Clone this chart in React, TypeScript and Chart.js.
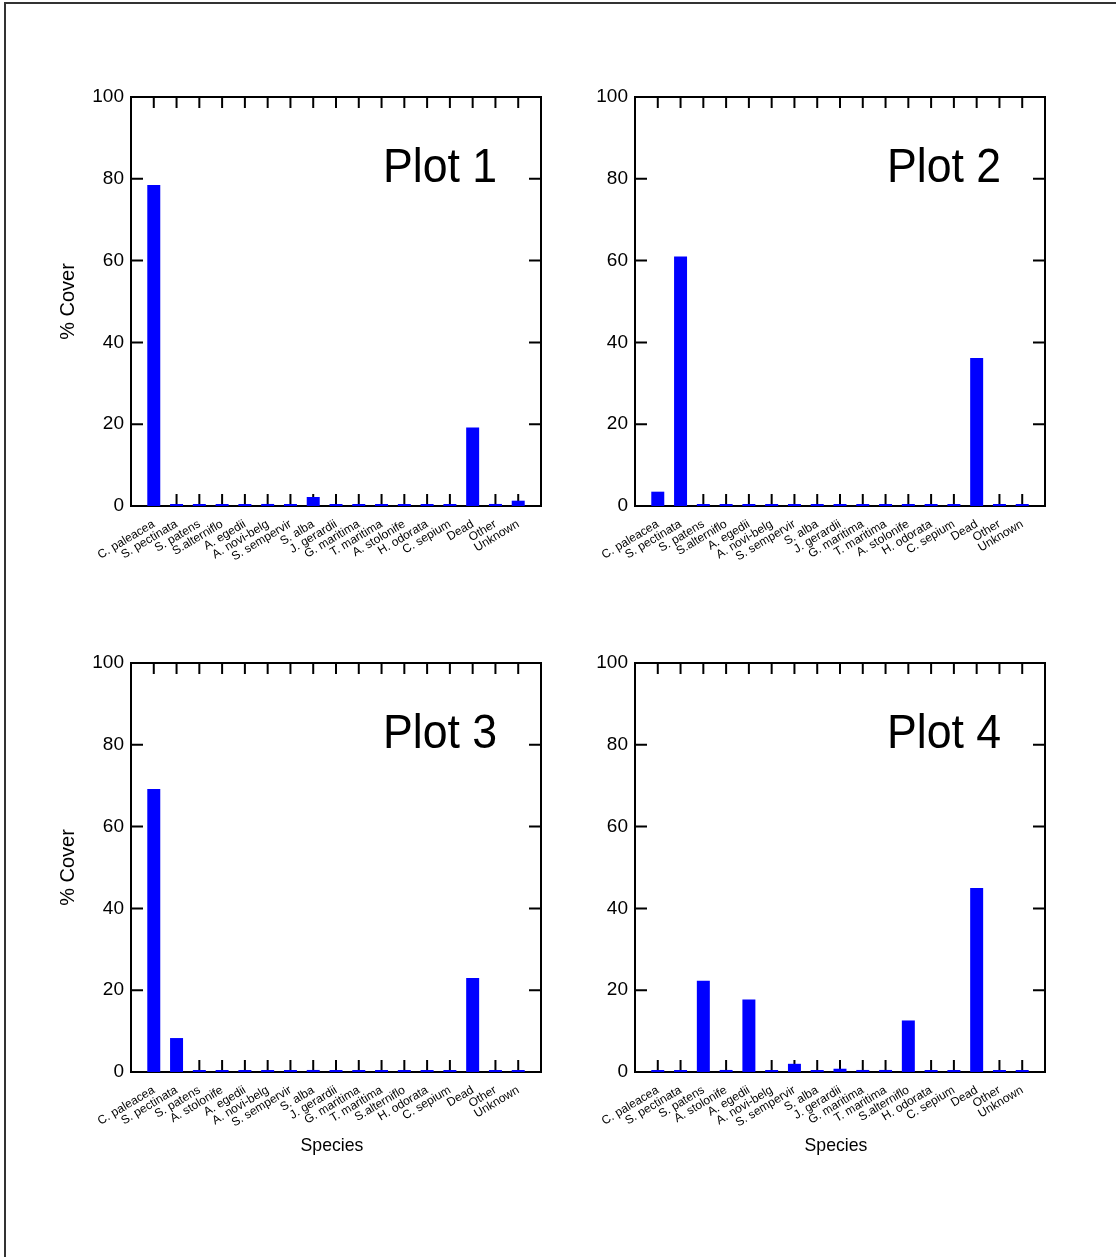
import React, { useEffect, useRef } from "react";
import { Chart, registerables } from "chart.js";

Chart.register(...registerables);
Chart.defaults.font.family = "'Liberation Sans', Arial, Helvetica, sans-serif";

const speciesA = [
  "C. paleacea", "S. pectinata", "S. patens", "S.alterniflo", "A. egedii",
  "A. novi-belg", "S. sempervir", "S. alba", "J. gerardii", "G. maritima",
  "T. maritima", "A. stolonife", "H. odorata", "C. sepium", "Dead", "Other", "Unknown",
];
const speciesB = [
  "C. paleacea", "S. pectinata", "S. patens", "A. stolonife", "A. egedii",
  "A. novi-belg", "S. sempervir", "S. alba", "J. gerardii", "G. maritima",
  "T. maritima", "S.alterniflo", "H. odorata", "C. sepium", "Dead", "Other", "Unknown",
];
const plot1Cover = [78.5, 0, 0, 0, 0, 0.5, 0, 2.2, 0, 0, 0, 0, 0, 0, 19.2, 0.5, 1.3];
const plot2Cover = [3.5, 61, 0, 0, 0, 0, 0, 0, 0, 0, 0, 0, 0, 0, 36.2, 0, 0];
const plot3Cover = [69.2, 8.3, 0, 0, 0, 0, 0, 0.5, 0, 0, 0, 0, 0, 0, 23, 0, 0];
const plot4Cover = [0, 0, 22.3, 0.5, 17.7, 0, 2, 0, 0.8, 0.5, 0.5, 12.6, 0, 0, 45, 0, 0];
const yTicks = [0, 20, 40, 60, 80, 100];

const FONT = "'Liberation Sans', Arial, Helvetica, sans-serif";

function makeFramePlugin(title: string, showY: boolean, showX: boolean, nCats: number) {
  return {
    id: "frame",
    beforeDatasetsDraw(chart: any) {
      const { ctx, chartArea: a, scales } = chart;
      ctx.save();
      ctx.strokeStyle = "#000";
      ctx.lineWidth = 2;
      ctx.strokeRect(a.left, a.top, a.right - a.left, a.bottom - a.top);
      ctx.beginPath();
      yTicks.forEach((v) => {
        const y = scales.y.getPixelForValue(v);
        ctx.moveTo(a.left, y);
        ctx.lineTo(a.left + 12, y);
        ctx.moveTo(a.right, y);
        ctx.lineTo(a.right - 12, y);
      });
      for (let i = 1; i <= nCats; i++) {
        const x = scales.x.getPixelForValue(i);
        ctx.moveTo(x, a.top);
        ctx.lineTo(x, a.top + 11);
        ctx.moveTo(x, a.bottom);
        ctx.lineTo(x, a.bottom - 12);
      }
      ctx.stroke();
      ctx.restore();
    },
    afterDraw(chart: any) {
      const { ctx, chartArea: a } = chart;
      ctx.save();
      ctx.fillStyle = "#000";
      ctx.save();
      ctx.translate(a.left + 252, a.top + 85);
      ctx.scale(0.93, 1);
      ctx.font = `48px ${FONT}`;
      ctx.textAlign = "left";
      ctx.textBaseline = "alphabetic";
      ctx.fillText(title, 0, 0);
      ctx.restore();
      if (showY) {
        ctx.save();
        ctx.translate(a.left - 57.5, (a.top + a.bottom) / 2);
        ctx.rotate(-Math.PI / 2);
        ctx.font = `20px ${FONT}`;
        ctx.textAlign = "center";
        ctx.textBaseline = "alphabetic";
        ctx.fillText("% Cover", 0, 0);
        ctx.restore();
      }
      if (showX) {
        ctx.save();
        ctx.translate((a.left + a.right) / 2 - 4, a.bottom + 78.5);
        ctx.scale(0.93, 1);
        ctx.font = `19px ${FONT}`;
        ctx.textAlign = "center";
        ctx.textBaseline = "alphabetic";
        ctx.fillText("Species", 0, 0);
        ctx.restore();
      }
      ctx.restore();
    },
  };
}

type Props = {
  left: number;
  top: number;
  labels: string[];
  values: number[];
  title: string;
  showY: boolean;
  showX: boolean;
};

function CoverChart({ left, top, labels, values, title, showY, showX }: Props) {
  const ref = useRef<HTMLCanvasElement>(null);
  useEffect(() => {
    const chart = new Chart(ref.current as HTMLCanvasElement, {
      type: "bar",
      data: {
        labels: ["", ...labels, ""],
        datasets: [
          {
            data: [null, ...values, null] as any,
            backgroundColor: "#0000ff",
            borderWidth: 0,
            barPercentage: 0.57,
            categoryPercentage: 1,
            minBarLength: 2,
          },
        ],
      },
      options: {
        responsive: false,
        animation: false,
        devicePixelRatio: 1,
        layout: { padding: { top: 37, right: 19, left: 0, bottom: 0 } },
        plugins: { legend: { display: false }, tooltip: { enabled: false } },
        scales: {
          x: {
            offset: false,
            grid: { display: false, drawTicks: false },
            border: { display: false },
            ticks: {
              autoSkip: false,
              minRotation: 31,
              maxRotation: 31,
              padding: 11,
              color: "#000",
              font: { size: 12 },
            },
            afterFit: (s: any) => {
              s.height = 124;
            },
          },
          y: {
            min: 0,
            max: 100,
            grid: { display: false, drawTicks: false },
            border: { display: false },
            ticks: { padding: 7, color: "#000", font: { size: 19 } },
            afterBuildTicks: (s: any) => {
              s.ticks = yTicks.map((v) => ({ value: v }));
            },
            afterFit: (s: any) => {
              s.width = 111;
            },
          },
        },
      } as any,
      plugins: [makeFramePlugin(title, showY, showX, labels.length)],
    });
    return () => chart.destroy();
  }, []);
  return (
    <canvas
      ref={ref}
      width={540}
      height={570}
      style={{ position: "absolute", left, top, width: 540, height: 570 }}
    />
  );
}

export default function App() {
  return (
    <div
      style={{
        position: "absolute",
        left: 0,
        top: 0,
        width: 1116,
        height: 1257,
        overflow: "hidden",
        background: "#fff",
      }}
    >
      <div
        style={{
          position: "absolute",
          left: 4,
          top: 2,
          width: 1200,
          height: 1300,
          borderLeft: "2px solid #333",
          borderTop: "2px solid #333",
        }}
      />
      <CoverChart left={20} top={60} labels={speciesA} values={plot1Cover} title="Plot 1" showY={true} showX={false} />
      <CoverChart left={524} top={60} labels={speciesA} values={plot2Cover} title="Plot 2" showY={false} showX={false} />
      <CoverChart left={20} top={626} labels={speciesB} values={plot3Cover} title="Plot 3" showY={true} showX={true} />
      <CoverChart left={524} top={626} labels={speciesB} values={plot4Cover} title="Plot 4" showY={false} showX={true} />
    </div>
  );
}
